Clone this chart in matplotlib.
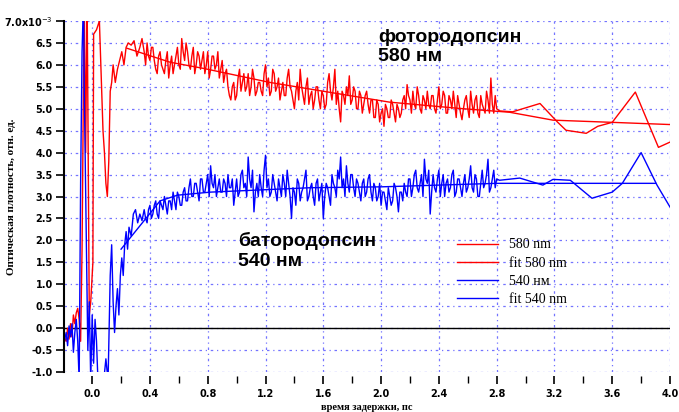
import matplotlib
matplotlib.use("Agg")
import matplotlib.pyplot as plt
import numpy as np
from matplotlib.ticker import MultipleLocator, FuncFormatter

# ---- data ----
# early (pump region), irregular points
red_early_x = [-0.195, -0.18, -0.17, -0.16, -0.15, -0.14, -0.13, -0.12, -0.11, -0.10, -0.09,
               -0.08, -0.07, -0.055, -0.045, -0.035, -0.02, -0.01, 0.005, 0.01, 0.03, 0.05,
               0.065, 0.075, 0.085, 0.095, 0.105, 0.115, 0.125, 0.135, 0.145, 0.16, 0.175,
               0.19, 0.205, 0.22, 0.235, 0.25, 0.27, 0.29, 0.31, 0.33, 0.345]
red_early_y = [-0.2, -0.3, 0.0, -0.25, 0.1, -0.2, 0.3, 0.1, 0.35, 0.45, 0.2,
               -0.3, 1.8, 7.6, 4.0, 7.6, 0.3, 0.6, 1.5, 6.7, 6.8, 7.0,
               5.5, 4.5, 4.0, 3.3, 3.0, 3.8, 5.4, 5.6, 6.0, 5.6, 5.9,
               6.1, 6.3, 6.0, 6.4, 6.5, 6.45, 6.55, 6.2, 6.4, 6.6]

blue_early_x = [-0.195, -0.18, -0.17, -0.16, -0.15, -0.14, -0.13, -0.12, -0.11, -0.10, -0.09,
                -0.08, -0.07, -0.06, -0.055, -0.045, -0.035, -0.03, -0.02, -0.01, 0.0, 0.01,
                0.02, 0.03, 0.04, 0.06, 0.08, 0.095, 0.11, 0.125, 0.135, 0.145, 0.155, 0.165,
                0.175, 0.185, 0.195, 0.205, 0.215, 0.225, 0.235, 0.245, 0.255, 0.27, 0.285,
                0.30, 0.315, 0.33, 0.345]
blue_early_y = [-0.35, -0.1, -0.4, 0.05, -0.2, 0.1, -0.55, -0.1, 0.2, -0.3, -1.2,
                3.3, 6.3, 7.5, 5.5, 3.1, 0.7, -0.5, 0.6, -1.2, 0.3, -0.8,
                0.2, -0.3, -1.2, -1.2, -1.2, -0.7, -1.2, 1.2, 1.9, 0.6, -0.1, 0.5,
                0.9, 0.3, 1.2, 1.6, 1.2, 1.9, 2.2, 1.8, 2.3, 2.1, 2.6,
                2.7, 2.4, 2.6, 2.45]

# main noisy part, even samples x = 0.36 ... 2.80 step 0.02
main_x = np.round(np.arange(0.36, 2.801, 0.02), 2)
red_main = [6.3, 6.5, 6.1, 6.4, 5.9, 6.2, 6.0, 5.8, 6.3, 6.0,
            5.8, 6.2, 6.0, 6.6, 6.1, 6.3, 5.9, 6.4, 6.0, 6.2,
            6.1, 5.8, 6.3, 5.9, 6.2, 6.0, 5.7, 6.1, 5.8, 5.5,
            5.2, 5.6, 5.3, 5.9, 5.6, 5.4, 5.8, 5.5, 5.7, 5.4,
            5.6, 5.3, 6.0, 5.7, 5.4, 5.8, 5.5, 5.2, 5.6, 5.3,
            5.9, 5.4, 5.0, 5.6, 5.9, 5.3, 5.5, 5.1, 5.4, 5.2,
            5.5, 5.0, 5.3, 5.1, 5.8, 5.2, 5.9, 5.4, 4.7, 5.3,
            5.5, 5.75, 5.2, 5.4, 5.0, 5.3, 5.1, 5.4, 4.9, 5.2,
            4.8, 5.1, 4.9, 4.6, 5.0, 4.8, 5.1, 4.7, 5.0, 4.9,
            5.3, 5.55, 5.2, 5.4, 5.0, 5.3, 4.9, 5.2, 5.4, 5.0,
            5.3, 4.9, 5.5, 5.1, 5.3, 4.9, 5.2, 5.4, 4.8, 5.1,
            4.75, 5.2, 5.0, 5.4, 4.9, 5.3, 4.8, 5.1, 4.9, 5.2,
            5.7, 4.9, 5.0]
blue_main = [2.7, 2.4, 2.8, 2.6, 2.9, 2.5, 2.8, 3.0, 2.6, 2.9,
             3.1, 2.7, 3.0, 2.8, 3.2, 2.9, 3.4, 3.0, 3.3, 2.9,
             3.4, 3.1, 3.5, 3.7, 3.2, 3.0, 3.4, 3.1, 3.3, 3.5,
             3.2, 2.8, 3.4, 3.1, 3.6, 3.3, 3.9, 3.2, 2.65, 3.3,
             3.5, 3.0, 3.94, 3.4, 3.1, 3.3, 2.9, 3.2, 3.5, 3.0,
             3.3, 2.5, 3.1, 3.4, 2.9, 3.2, 3.6, 3.0, 3.3, 2.8,
             3.4, 3.1, 2.5, 3.3, 3.0, 3.5, 3.2, 3.6, 3.9, 3.4,
             3.7, 3.1, 3.5, 3.0, 3.3, 2.9, 3.4, 3.1, 3.5, 2.9,
             3.2, 3.0, 2.8, 3.1, 2.7, 3.0, 2.9, 3.2, 2.65, 3.1,
             3.3, 3.0, 3.4, 3.2, 3.6, 3.1, 3.5, 3.85, 3.3, 2.6,
             3.5, 3.1, 3.6, 3.3, 3.0, 3.4, 3.2, 3.6, 3.1, 3.4,
             3.0, 3.5, 3.2, 3.7, 3.1, 3.4, 3.0, 3.6, 3.3, 3.85,
             3.2, 3.6, 3.4]

# odd samples x = 0.37 ... 2.79 step 0.02
mid_x = np.round(np.arange(0.37, 2.791, 0.02), 2)
red_mid = [6.0, 6.2, 6.4, 6.1, 5.8, 6.3, 5.9, 6.1, 5.7, 6.2,
           6.0, 6.4, 5.9, 6.3, 6.5, 6.0, 6.2, 5.8, 6.3, 5.9,
           6.3, 6.0, 5.7, 6.2, 5.9, 6.3, 5.9, 5.6, 5.9, 5.3,
           5.5, 5.2, 5.7, 5.4, 5.8, 5.5, 5.3, 5.9, 5.3, 5.6,
           5.4, 5.8, 5.5, 5.3, 5.9, 5.4, 5.7, 5.4, 5.3, 5.7,
           5.5, 5.2, 5.4, 5.2, 5.5, 5.1, 5.7, 5.3, 5.0, 5.5,
           5.2, 5.4, 5.0, 5.6, 5.4, 5.5, 5.1, 5.0, 5.4, 5.1,
           5.3, 5.1, 5.5, 5.0, 5.4, 4.9, 5.3, 5.1, 5.2, 4.8,
           5.2, 4.7, 5.0, 5.1, 4.8, 5.2, 4.9, 5.1, 4.8, 5.2,
           5.0, 5.3, 4.9, 5.1, 5.5, 5.0, 5.3, 5.0, 5.1, 5.3,
           5.0, 5.2, 5.0, 5.4, 4.9, 5.3, 5.0, 5.1, 5.3, 4.9,
           5.0, 5.3, 4.8, 5.1, 5.2, 4.9, 5.3, 5.0, 5.4, 4.9,
           5.1, 5.3]
blue_mid = [2.5, 2.7, 2.5, 2.8, 2.6, 2.9, 2.7, 2.8, 2.9, 2.7,
            2.9, 3.1, 2.8, 3.1, 2.9, 3.2, 3.0, 3.3, 3.1, 3.4,
            3.1, 3.3, 3.0, 3.3, 3.5, 3.2, 3.1, 3.4, 3.0, 3.2,
            3.4, 3.1, 3.0, 3.5, 3.2, 3.0, 3.4, 3.6, 3.1, 3.0,
            3.2, 3.6, 3.2, 3.0, 3.5, 3.1, 3.4, 3.0, 3.3, 3.6,
            3.0, 3.2, 2.8, 3.3, 3.1, 3.4, 2.9, 3.2, 3.0, 3.3,
            2.9, 3.3, 3.0, 3.2, 2.8, 3.3, 3.0, 3.4, 3.2, 3.0,
            3.3, 3.5, 3.2, 3.4, 3.1, 3.3, 3.0, 3.4, 3.1, 3.3,
            2.9, 3.3, 3.1, 2.9, 3.2, 2.8, 3.3, 3.0, 3.1, 2.9,
            3.1, 3.4, 3.0, 3.5, 3.2, 3.3, 3.0, 3.4, 3.6, 3.1,
            3.2, 3.4, 3.0, 3.5, 3.3, 3.1, 3.5, 3.0, 3.4, 3.2,
            3.3, 3.1, 3.4, 3.2, 3.5, 3.0, 3.3, 3.2, 3.5, 3.1,
            3.4, 3.2]

# sparse tail
red_tail_x = [2.82, 2.91, 3.10, 3.22, 3.28, 3.42, 3.50, 3.60, 3.76, 3.92, 4.0]
red_tail_y = [4.95, 4.93, 5.12, 4.7, 4.51, 4.44, 4.6, 4.69, 5.38, 4.12, 4.24]
blue_tail_x = [2.82, 2.96, 3.12, 3.19, 3.31, 3.46, 3.60, 3.67, 3.80, 3.91, 4.0]
blue_tail_y = [3.37, 3.42, 3.26, 3.39, 3.37, 2.96, 3.1, 3.3, 4.0, 3.26, 2.76]

# fits
red_fit_x = [0.24, 0.54, 0.77, 1.23, 1.69, 2.06, 2.57, 2.89, 3.19, 3.6, 4.0]
red_fit_y = [6.38, 6.06, 5.92, 5.6, 5.35, 5.15, 5.0, 4.92, 4.74, 4.69, 4.64]
blue_fit_x = [0.2, 0.47, 0.59, 0.82, 1.51, 2.0, 2.8, 3.9]
blue_fit_y = [1.8, 2.9, 3.03, 3.1, 3.2, 3.22, 3.3, 3.3]


def merge(parts_x, parts_y):
    x = np.concatenate(parts_x)
    y = np.concatenate(parts_y)
    order = np.argsort(x, kind="stable")
    return x[order], y[order]


red_x, red_y = merge([red_early_x, main_x, mid_x, red_tail_x],
                     [red_early_y, red_main, red_mid, red_tail_y])
blue_x, blue_y = merge([blue_early_x, main_x, mid_x, blue_tail_x],
                       [blue_early_y, blue_main, blue_mid, blue_tail_y])

fig = plt.figure(figsize=(6.79, 4.12), dpi=100)
ax = fig.add_axes([64/679, 1-372/412, 606/679, 351/412])

grid_c = (0.45, 0.45, 1.0)
ax.grid(True, color=grid_c, linestyle=(0, (2, 3, 1, 3)), linewidth=0.9)
ax.set_axisbelow(True)
ax.axhline(0, color="black", lw=1.0, zorder=1)

ax.plot(red_x, red_y, color="#ff0000", lw=1.0, label="580 nm")
ax.plot(red_fit_x, red_fit_y, color="#ff0000", lw=1.0, label="fit 580 nm")
ax.plot(blue_x, blue_y, color="#0000ff", lw=1.0, label="540 нм")
ax.plot(blue_fit_x, blue_fit_y, color="#0000ff", lw=1.0, label="fit 540 nm")

ax.set_xlim(-0.195, 4.0)
ax.set_ylim(-1.0, 7.0)
ax.xaxis.set_major_locator(MultipleLocator(0.4))
ax.xaxis.set_minor_locator(MultipleLocator(0.2))
ax.yaxis.set_major_locator(MultipleLocator(0.5))


def yfmt(v, pos):
    if abs(v - 7.0) < 1e-6:
        return "7.0x10$^{-3}$"
    return "%.1f" % v


ax.yaxis.set_major_formatter(FuncFormatter(yfmt))
ax.xaxis.set_major_formatter(FuncFormatter(lambda v, p: "%.1f" % v))

for s in ["top", "right"]:
    ax.spines[s].set_visible(False)
ax.spines["left"].set_linewidth(1.5)
ax.spines["bottom"].set_position(("outward", 3))
ax.spines["bottom"].set_color("none")
ax.tick_params(axis="y", direction="out", length=6, width=1.2, labelsize=7, pad=2)
ax.tick_params(axis="x", which="major", direction="out", length=6, width=1.2, labelsize=7, pad=3, color="black")
ax.tick_params(axis="x", which="minor", direction="out", length=5, width=1.0, color="black")
for lab in ax.get_xticklabels() + ax.get_yticklabels():
    lab.set_fontweight("bold")

ax.set_ylabel("Оптическая плотность, отн. ед.", fontsize=8, family="Liberation Serif",
              fontweight="bold")
ax.yaxis.set_label_coords(-0.079, 0.5)
ax.set_xlabel("время задержки, пс", fontsize=7.5, family="Liberation Serif",
              fontweight="bold", labelpad=3)

ax.text(378/679, 1-47/412, "фотородопсин\n580 нм", transform=fig.transFigure,
        fontsize=14, fontweight="bold", family="Liberation Sans", va="center",
        linespacing=1.2)
ax.text(238/679, 1-251/412, "батородопсин\n540 нм", transform=fig.transFigure,
        fontsize=14, fontweight="bold", family="Liberation Sans", va="center",
        linespacing=1.2)

leg = ax.legend(loc="upper left", bbox_to_anchor=(444/679, 1-226/412),
                bbox_transform=fig.transFigure, frameon=False,
                prop={"family": "Liberation Serif", "size": 10},
                handlelength=3.0, handletextpad=0.8, labelspacing=0.38)

fig.savefig("out.png", dpi=100)
